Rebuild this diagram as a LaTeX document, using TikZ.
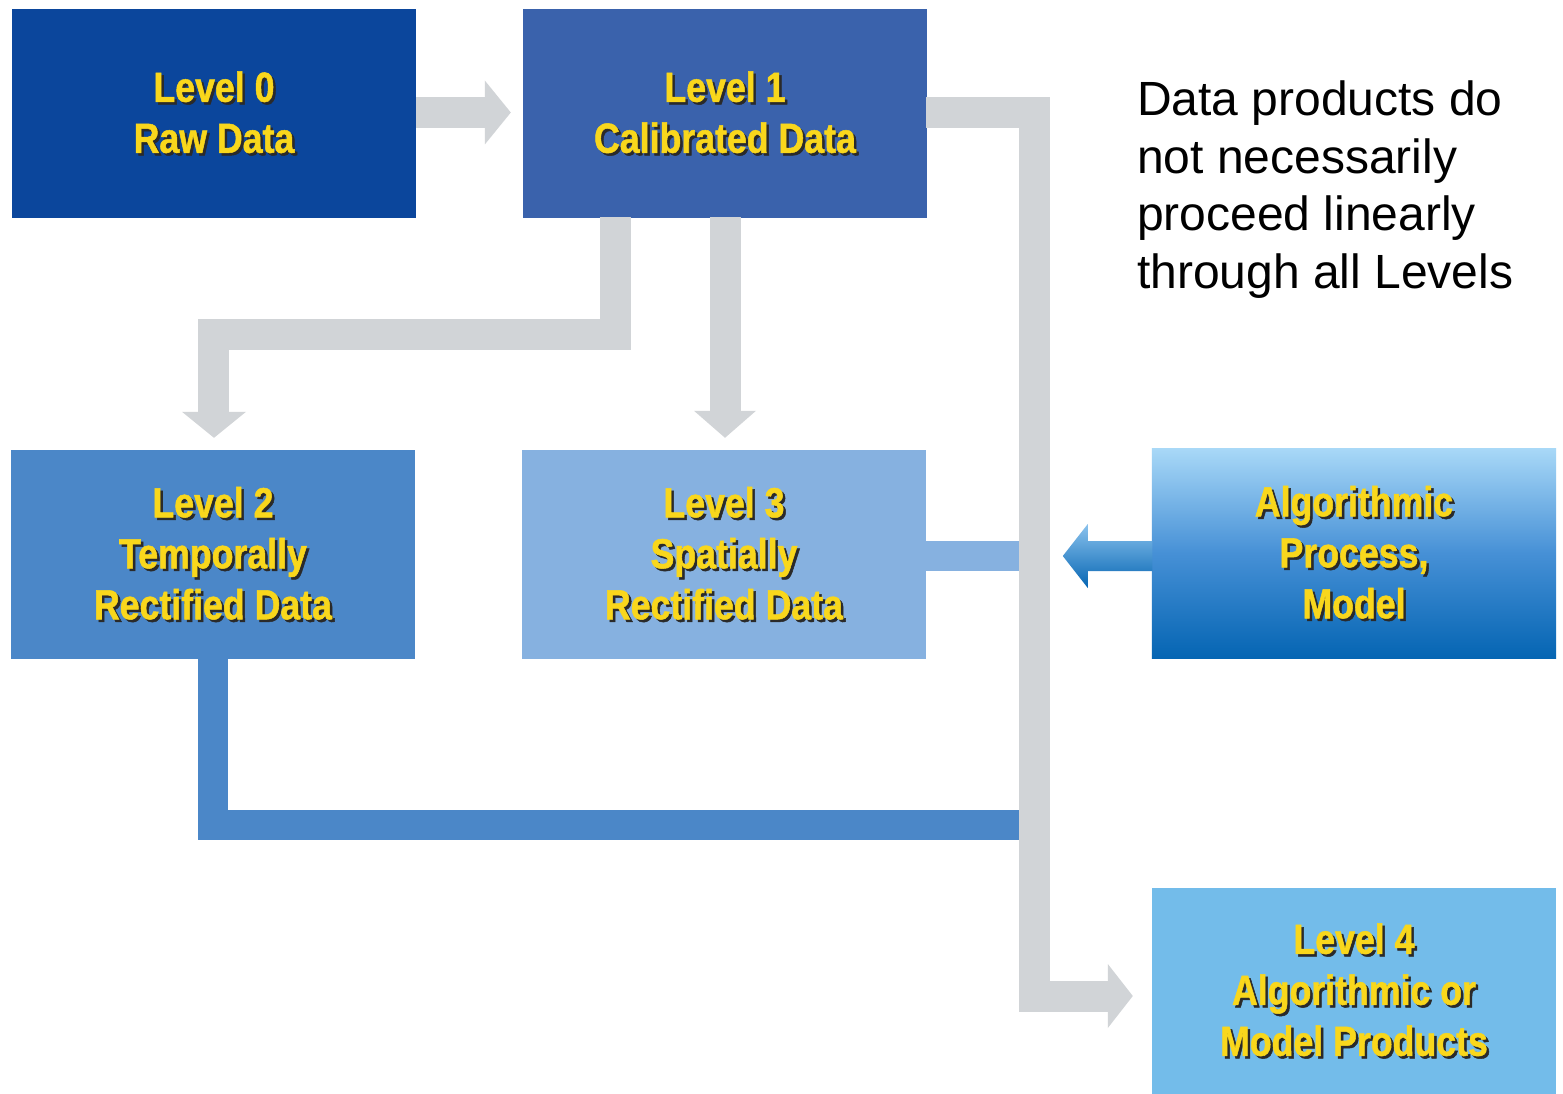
\documentclass[tikz,border=0pt]{standalone}
\usepackage{fontspec}
\setmainfont{Liberation Sans}
\newfontfamily\lvlfont[FakeStretch=0.85, BoldFeatures={FakeBold=1.2}]{Liberation Sans}
\usetikzlibrary{calc}

\definecolor{lvzero}{HTML}{0B469C}
\definecolor{lvone}{HTML}{3A62AC}
\definecolor{lvtwo}{HTML}{4B87C8}
\definecolor{lvthree}{HTML}{86B1E0}
\definecolor{lvfour}{HTML}{73BCEA}
\definecolor{algtop}{HTML}{A8D8F7}
\definecolor{algmid}{HTML}{4690D6}
\definecolor{algbot}{HTML}{0565B3}
\definecolor{flowgray}{HTML}{D1D4D7}
\definecolor{txtyellow}{HTML}{F9D71C}
\definecolor{txtshadow}{HTML}{2A2A2A}

% yellow label with a dark drop shadow
\newcommand\lvltxt[1]{\makebox[0pt][l]{\hspace*{2.5pt}\raisebox{-2.5pt}{\textcolor{txtshadow}{#1}}}\textcolor{txtyellow}{#1}}

\begin{document}
\begin{tikzpicture}[x=1pt,y=-1pt,
  levelbox/.style={minimum width=404pt, minimum height=209pt, inner sep=0pt,
    align=center, font=\lvlfont\bfseries\fontsize{42pt}{51pt}\selectfont},
  graybar/.style={draw=flowgray, line width=31pt, line cap=butt, line join=miter},
  graytip/.style={fill=flowgray},
  bluebar/.style={line width=30pt, line cap=butt, line join=miter}]

\useasboundingbox (0,0) rectangle (1563,1094);
\fill[white] (0,0) rectangle (1563,1094);

% level boxes
\node[levelbox, fill=lvzero] (L0) at (214,113.5) {\lvltxt{Level 0}\\\lvltxt{Raw Data}};
\node[levelbox, fill=lvone] (L1) at (725,113.5) {\lvltxt{Level 1}\\\lvltxt{Calibrated Data}};
\node[levelbox, fill=lvtwo] (L2) at (213,554.5) {\lvltxt{Level 2}\\\lvltxt{Temporally}\\\lvltxt{Rectified Data}};
\node[levelbox, fill=lvthree] (L3) at (724,554.5) {\lvltxt{Level 3}\\\lvltxt{Spatially}\\\lvltxt{Rectified Data}};
\node[levelbox, minimum height=206pt, fill=lvfour] (L4) at (1354,991) {\lvltxt{Level 4}\\\lvltxt{Algorithmic or}\\\lvltxt{Model Products}};

% algorithmic process box with vertical gradient
\node[levelbox] (AP) at (1354,553.5) {};
\shade[top color=algtop, bottom color=algbot, middle color=algmid]
  (AP.north west) rectangle (AP.south east);
\node[levelbox] at (AP.center) {\lvltxt{Algorithmic}\\\lvltxt{Process,}\\\lvltxt{Model}};

% note text
\node[anchor=north west, inner sep=0pt, align=left,
  font=\fontsize{48pt}{57.5pt}\selectfont] (note) at (1137,81)
  {Data products do\\not necessarily\\proceed linearly\\through all Levels};

% blue connectors from Level 2 and Level 3
\draw[bluebar, draw=lvthree] ($(L3.east)+(0,1.5)$) -- ($(L3.east -| L4.west)+(-133,1.5)$);
\draw[bluebar, draw=lvtwo] ($(L2.south)+(-0.5,0)$) |- ($(L4.west)+(-133,-166)$);

% Level 0 -> Level 1
\draw[graybar] ($(L0.east)+(0,-1)$) -- ($(L1.west)+(-37,-1)$);
\fill[graytip] ($(L1.west)+(-38,-33)$) -- ($(L1.west)+(-12,-1)$) -- ($(L1.west)+(-38,31)$) -- cycle;

% Level 1 -> Level 3
\draw[graybar] ($(L1.south)+(0,-1)$) -- ($(L1.south |- L3.north)+(0,-38)$);
\fill[graytip] ($(L1.south |- L3.north)+(-31,-39)$) -- ($(L1.south |- L3.north)+(0,-12)$) -- ($(L1.south |- L3.north)+(31,-39)$) -- cycle;

% Level 1 -> Level 2
\draw[graybar] ($(L1.south)+(-110,-1)$) |- ($(L2.north)+(0,-115.5)$) -- ($(L2.north)+(0,-37)$);
\fill[graytip] ($(L2.north)+(-31,-38)$) -- ($(L2.north)+(1,-12)$) -- ($(L2.north)+(33,-38)$) -- cycle;

% Level 1 -> Level 4
\draw[graybar] ($(L1.east)+(-1,-1)$) -| ($(L4.west)+(-117.5,5)$) -- ($(L4.west)+(-43,5)$);
\fill[graytip] ($(L4.west)+(-44,-27)$) -- ($(L4.west)+(-19,5)$) -- ($(L4.west)+(-44,37)$) -- cycle;

% Algorithmic process -> flow
\shade[top color=algtop!70!algmid, bottom color=algbot]
  ($(AP.west)+(0.5,-12.5)$) -- ($(AP.west)+(-64,-12.5)$) -- ($(AP.west)+(-64,-29.5)$)
  -- ($(AP.west)+(-89,2.5)$) -- ($(AP.west)+(-64,34.5)$) -- ($(AP.west)+(-64,17.5)$)
  -- ($(AP.west)+(0.5,17.5)$) -- cycle;
\end{tikzpicture}
\end{document}
